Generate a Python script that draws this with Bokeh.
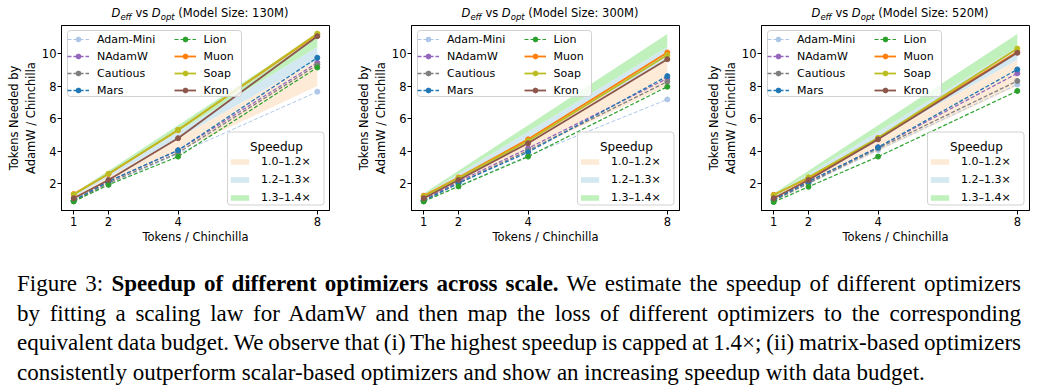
from bokeh.plotting import figure
from bokeh.models import (Range1d, FixedTicker, Legend, LegendItem, BoxAnnotation,
                          Label, Div)
from bokeh.layouts import row, column
from bokeh.embed import file_html
from bokeh.resources import INLINE

# ---------------- data ----------------
x_vals = [1, 2, 4, 8]
y_ticks = [2, 4, 6, 8, 10]
model_sizes = ["130M", "300M", "520M"]
optimizers = ["Adam-Mini", "NAdamW", "Cautious", "Mars", "Lion", "Muon", "Soap", "Kron"]

vals_130m = {
    "Adam-Mini": [0.92, 1.95, 3.85, 7.65],
    "NAdamW":    [0.98, 2.15, 4.05, 9.43],
    "Cautious":  [0.95, 2.05, 3.90, 9.30],
    "Mars":      [0.98, 2.15, 4.06, 9.74],
    "Lion":      [0.92, 1.94, 3.67, 9.14],
    "Muon":      [1.37, 2.60, 5.30, 11.18],
    "Soap":      [1.35, 2.62, 5.31, 11.22],
    "Kron":      [1.12, 2.24, 4.80, 11.06],
}
vals_300m = {
    "Adam-Mini": [0.92, 1.88, 3.73, 7.18],
    "NAdamW":    [1.02, 2.14, 4.18, 8.47],
    "Cautious":  [0.98, 2.04, 4.05, 8.27],
    "Mars":      [0.96, 2.04, 3.94, 8.61],
    "Lion":      [0.92, 1.84, 3.67, 7.96],
    "Muon":      [1.27, 2.39, 4.73, 10.06],
    "Soap":      [1.22, 2.35, 4.63, 9.90],
    "Kron":      [1.12, 2.24, 4.49, 9.65],
}
vals_520m = {
    "Adam-Mini": [0.95, 2.00, 4.08, 8.10],
    "NAdamW":    [1.02, 2.14, 4.24, 8.78],
    "Cautious":  [0.98, 2.04, 4.18, 8.31],
    "Mars":      [1.02, 2.14, 4.24, 9.02],
    "Lion":      [0.88, 1.82, 3.67, 7.70],
    "Muon":      [1.33, 2.35, 4.80, 10.10],
    "Soap":      [1.30, 2.40, 4.82, 10.30],
    "Kron":      [1.12, 2.24, 4.73, 10.04],
}
all_vals = [vals_130m, vals_300m, vals_520m]

speedup_edges = [1.0, 1.2, 1.3, 1.4]
band_labels = ["1.0\u20131.2\u00d7", "1.2\u20131.3\u00d7", "1.3\u20131.4\u00d7"]

caption_lines = [
    ("Figure 3: ", "Speedup of different optimizers across scale.",
     " We estimate the speedup of different optimizers"),
    ("by fitting a scaling law for AdamW and then map the loss of different optimizers to the corresponding", "", ""),
    ("equivalent data budget. We observe that (i) The highest speedup is capped at 1.4\u00d7; (ii) matrix-based optimizers", "", ""),
    ("consistently outperform scalar-based optimizers and show an increasing speedup with data budget.", "", ""),
]

# ---------------- styles ----------------
colors = {"Adam-Mini": "#aec7e8", "NAdamW": "#9467bd", "Cautious": "#7f7f7f", "Mars": "#1f77b4",
          "Lion": "#2ca02c", "Muon": "#ff7f0e", "Soap": "#bcbd22", "Kron": "#8c564b"}
dashed = {"Adam-Mini", "NAdamW", "Cautious", "Mars", "Lion"}
widths = {"Adam-Mini": 1.0, "Lion": 1.2}
band_colors = ["#fdebd7", "#d3e8f0", "#c0f0bc"]

FONT = "DejaVu Sans"
FRAME_W, FRAME_H = 268, 185
TITLE_H = 14
BT, BB = 1, 40
FIG_H = BT + FRAME_H + BB
BL = 61

# axis ranges with matplotlib-like 5% margins
xlo, xhi = min(x_vals), max(x_vals)
xpad = 0.05 * (xhi - xlo)
ymin = min(min(min(v) for v in d.values()) for d in all_vals)
ymax = max(x_vals) * speedup_edges[-1]
ypad = 0.05 * (ymax - ymin)


def screen_box(p, left, right, top, bottom):
    b = BoxAnnotation(left=left, right=right, top=top, bottom=bottom,
                      left_units="screen", right_units="screen",
                      top_units="screen", bottom_units="screen",
                      fill_color="white", fill_alpha=0.8,
                      line_color="#cccccc", line_alpha=0.9, line_width=1,
                      border_radius=3)
    p.add_layout(b)


def make_title(size, width):
    sub = "font-size:8.5px;font-style:italic;vertical-align:-2.5px;line-height:0;"
    txt = ("<i>D</i><span style='%s'>eff</span> vs <i>D</i><span style='%s'>opt</span>"
           " (Model Size: %s)" % (sub, sub, size))
    html = ("<div style='margin-left:%dpx;width:%dpx;text-align:center;font-family:\"DejaVu Sans\";"
            "font-size:11.5px;line-height:11px;padding-top:3px;color:black;white-space:nowrap;'>%s</div>"
            % (BL, FRAME_W, txt))
    return Div(text=html, width=width, height=TITLE_H)


def make_plot(size, data, width):
    p = figure(width=width, height=FIG_H, output_backend="svg", toolbar_location=None,
               x_range=Range1d(xlo - xpad, xhi + xpad),
               y_range=Range1d(ymin - ypad, ymax + ypad),
               min_border_left=BL, min_border_right=width - BL - FRAME_W,
               min_border_top=BT, min_border_bottom=BB)
    p.outline_line_color = "black"
    p.outline_line_width = 1
    p.xgrid.visible = False
    p.ygrid.visible = False
    p.background_fill_color = "white"
    p.border_fill_color = "white"

    p.xaxis.ticker = FixedTicker(ticks=x_vals)
    p.yaxis.ticker = FixedTicker(ticks=y_ticks)
    for ax in (p.xaxis[0], p.yaxis[0]):
        ax.major_label_text_font = FONT
        ax.major_label_text_font_size = "11.5px"
        ax.major_label_text_color = "black"
        ax.axis_label_text_font = FONT
        ax.axis_label_text_font_size = "11.5px"
        ax.axis_label_text_font_style = "normal"
        ax.axis_label_text_color = "black"
        ax.minor_tick_line_color = None
        ax.major_tick_in = 0
        ax.major_tick_out = 4
        ax.major_tick_line_color = "black"
        ax.axis_line_color = "black"
    p.xaxis.major_label_standoff = 2
    p.xaxis.axis_label_standoff = 1
    p.yaxis.major_label_standoff = 1
    p.yaxis.axis_label_standoff = 1
    p.xaxis.axis_label = "Tokens / Chinchilla"
    p.yaxis.axis_label = "Tokens Needed by\nAdamW / Chinchilla"

    # speedup bands
    band_items = []
    for i, lab in enumerate(band_labels):
        lo = [x * speedup_edges[i] for x in x_vals]
        hi = [x * speedup_edges[i + 1] for x in x_vals]
        r = p.varea(x=x_vals, y1=lo, y2=hi, fill_color=band_colors[i], fill_alpha=1.0)
        band_items.append(LegendItem(label=lab, renderers=[r]))

    # optimizer lines
    line_items = []
    for name in optimizers:
        c = colors[name]
        if name in dashed:
            rl = p.line(x_vals, data[name], line_color=c, line_width=widths.get(name, 1.3),
                        line_dash="4 2")
        else:
            rl = p.line(x_vals, data[name], line_color=c, line_width=1.8)
        rs = p.scatter(x_vals, data[name], size=5, fill_color=c, line_color=c, marker="circle")
        line_items.append(LegendItem(label=name, renderers=[rl, rs]))

    # legend frames
    screen_box(p, 6, 180, FRAME_H - 5, FRAME_H - 71)
    screen_box(p, 166, 262.5, 78.5, 5.5)

    common = dict(background_fill_alpha=0, border_line_color=None,
                  label_text_font=FONT, label_text_font_size="11px",
                  label_text_color="black", margin=0, padding=4)
    leg1 = Legend(items=line_items[:4], location=(6, FRAME_H - 3.5 - 68),
                  glyph_width=22, glyph_height=12, label_height=12, spacing=4,
                  label_standoff=8, **common)
    leg2 = Legend(items=line_items[4:], location=(112.5, FRAME_H - 3.5 - 68),
                  glyph_width=22, glyph_height=12, label_height=12, spacing=4,
                  label_standoff=8, **common)
    leg3 = Legend(items=band_items, location=(167, 6),
                  glyph_width=23, glyph_height=7, label_height=14, spacing=4,
                  label_standoff=10, **common)
    for lg in (leg1, leg2, leg3):
        p.add_layout(lg)

    p.add_layout(Label(x=188.5, y=63.5, x_units="screen", y_units="screen", text="Speedup",
                       text_font=FONT, text_font_size="12px", text_color="black",
                       text_baseline="alphabetic"))
    return p


panels = []
for s, d, w in zip(model_sizes, all_vals, [340, 340, 345]):
    panels.append(column(make_title(s, w), make_plot(s, d, w)))

line_divs = []
for i, (a, b, c) in enumerate(caption_lines):
    last = i == len(caption_lines) - 1
    align = "left" if last else "justify"
    ws = "0px" if last else "-2px"
    bold = "<b>%s</b>" % b if b else ""
    line_divs.append(
        "<div style='text-align:%s;text-align-last:%s;word-spacing:%s;width:1004px;'>%s%s%s</div>"
        % (align, align, ws, a, bold, c))
html = ("<div style='font-family:\"Liberation Serif\",\"Times New Roman\",serif;font-size:23px;"
        "line-height:29.7px;color:black;padding-left:12px;padding-top:14px;'>"
        + "".join(line_divs) + "</div>")
caption = Div(text=html, width=1032, height=130)

layout = column(row(*panels), caption)
open("out.html", "w", encoding="utf-8").write(file_html(layout, INLINE))
